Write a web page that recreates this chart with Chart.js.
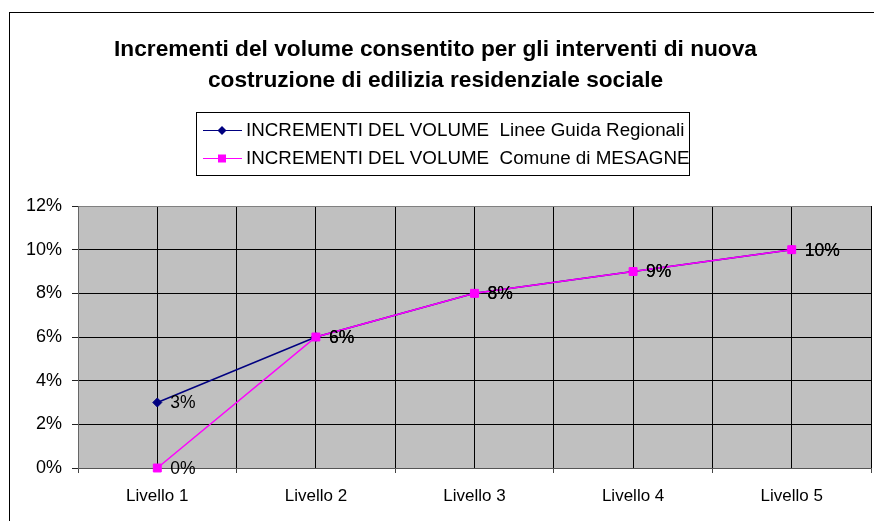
<!DOCTYPE html>
<html>
<head>
<meta charset="utf-8">
<script src="https://cdn.jsdelivr.net/npm/chart.js@4.4.0/dist/chart.umd.min.js"></script>
<style>
  html, body { margin: 0; padding: 0; background: #fff; }
</style>
</head>
<body>
<canvas id="grafico" width="874" height="521"></canvas>
<script>
const livelli = ["Livello 1", "Livello 2", "Livello 3", "Livello 4", "Livello 5"];
const lineeGuida = [3, 6, 8, 9, 10];
const mesagne = [0, 6, 8, 9, 10];
const nomeLineeGuida = "INCREMENTI DEL VOLUME  Linee Guida Regionali";
const nomeMesagne = "INCREMENTI DEL VOLUME  Comune di MESAGNE";
const titolo = ["Incrementi del volume consentito per gli interventi di nuova", "costruzione di edilizia residenziale sociale"];

const FONT = 'Arial, "Liberation Sans", sans-serif';

// sfondo, cornice esterna, legenda ed etichette dei valori
const cornice = {
  id: 'cornice',
  beforeDraw(chart) {
    const ctx = chart.ctx;
    const a = chart.chartArea;
    ctx.save();
    ctx.fillStyle = '#fff';
    ctx.fillRect(0, 0, chart.width, chart.height);
    ctx.strokeStyle = '#000';
    ctx.lineWidth = 1;
    ctx.strokeRect(9.5, 12.5, 1000, 600);
    ctx.fillStyle = '#c0c0c0';
    ctx.fillRect(a.left, a.top, a.right - a.left, a.bottom - a.top);
    ctx.restore();
  },
  afterDatasetsDraw(chart) {
    const ctx = chart.ctx;
    ctx.save();
    ctx.font = '17.5px ' + FONT;
    ctx.fillStyle = '#000';
    ctx.textAlign = 'left';
    ctx.textBaseline = 'middle';
    chart.data.datasets.forEach((ds, i) => {
      const meta = chart.getDatasetMeta(i);
      meta.data.forEach((pt, j) => {
        ctx.fillText(ds.data[j] + '%', pt.x + 13, pt.y + 1);
      });
    });
    ctx.restore();
  },
  afterDraw(chart) {
    const ctx = chart.ctx;
    ctx.save();
    ctx.strokeStyle = '#000';
    ctx.lineWidth = 1;
    ctx.strokeRect(196.5, 112.5, 493, 63);
    chart.data.datasets.forEach((ds, i) => {
      const y = 130 + i * 28;
      ctx.strokeStyle = ds.borderColor;
      ctx.beginPath();
      ctx.moveTo(203, y + 0.5);
      ctx.lineTo(242, y + 0.5);
      ctx.stroke();
      ctx.fillStyle = ds.backgroundColor;
      ctx.beginPath();
      if (ds.pointStyle === 'rectRot') {
        ctx.moveTo(222 - 4.5, y + 0.5);
        ctx.lineTo(222, y - 4);
        ctx.lineTo(222 + 4.5, y + 0.5);
        ctx.lineTo(222, y + 5);
      } else {
        ctx.rect(218, y - 3.5, 8, 8);
      }
      ctx.closePath();
      ctx.fill();
      ctx.fillStyle = '#000';
      ctx.font = '18.8px ' + FONT;
      ctx.textBaseline = 'middle';
      ctx.fillText(ds.label, 246, y + 1);
    });
    ctx.restore();
  }
};

new Chart(document.getElementById('grafico'), {
  type: 'line',
  data: {
    labels: livelli,
    datasets: [
      {
        label: nomeLineeGuida,
        data: lineeGuida,
        borderColor: '#000080',
        backgroundColor: '#000080',
        borderWidth: 1.5,
        pointStyle: 'rectRot',
        pointRadius: 4.5,
        pointBorderWidth: 1,
        tension: 0,
        clip: false,
        order: 2
      },
      {
        label: nomeMesagne,
        data: mesagne,
        borderColor: '#ff00ff',
        backgroundColor: '#ff00ff',
        borderWidth: 1.5,
        pointStyle: 'rect',
        pointRadius: 5.6,
        pointBorderWidth: 1,
        tension: 0,
        clip: false,
        order: 1
      }
    ]
  },
  options: {
    responsive: false,
    animation: false,
    layout: { autoPadding: false, padding: { top: 0, left: 0, right: 3, bottom: 0 } },
    plugins: {
      legend: { display: false },
      tooltip: { enabled: false },
      title: {
        display: true,
        text: titolo,
        color: '#000',
        font: { family: FONT, size: 22.7, weight: 'bold', lineHeight: 1.366 },
        padding: { top: 34, bottom: 110 }
      }
    },
    scales: {
      x: {
        offset: true,
        afterFit(s) { s.height = 53; s.paddingLeft = 0; s.paddingRight = 0; },
        grid: {
          offset: true,
          color: (c) => (c.index === 0 || c.index === livelli.length) ? '#808080' : '#000',
          tickLength: 5,
          tickColor: '#444'
        },
        border: { color: '#555', width: 1 },
        ticks: { color: '#000', font: { family: FONT, size: 17 }, padding: 13, maxRotation: 0 }
      },
      xc: {
        type: 'category',
        position: 'bottom',
        offset: true,
        afterFit(s) { s.height = 0; s.paddingLeft = 0; s.paddingRight = 0; },
        grid: { offset: false, color: '#000', drawTicks: false },
        border: { display: false },
        ticks: { display: false }
      },
      y: {
        min: 0,
        max: 12,
        afterFit(s) { s.width = 78; },
        grid: {
          color: (c) => (c.tick && c.tick.value === 12) ? '#808080' : '#000',
          tickLength: 6,
          tickColor: '#222'
        },
        border: { color: '#666', width: 1 },
        ticks: {
          stepSize: 2,
          color: '#000',
          padding: 10,
          font: { family: FONT, size: 18 },
          callback: (v) => v + '%'
        }
      }
    }
  },
  plugins: [cornice]
});
</script>
</body>
</html>
